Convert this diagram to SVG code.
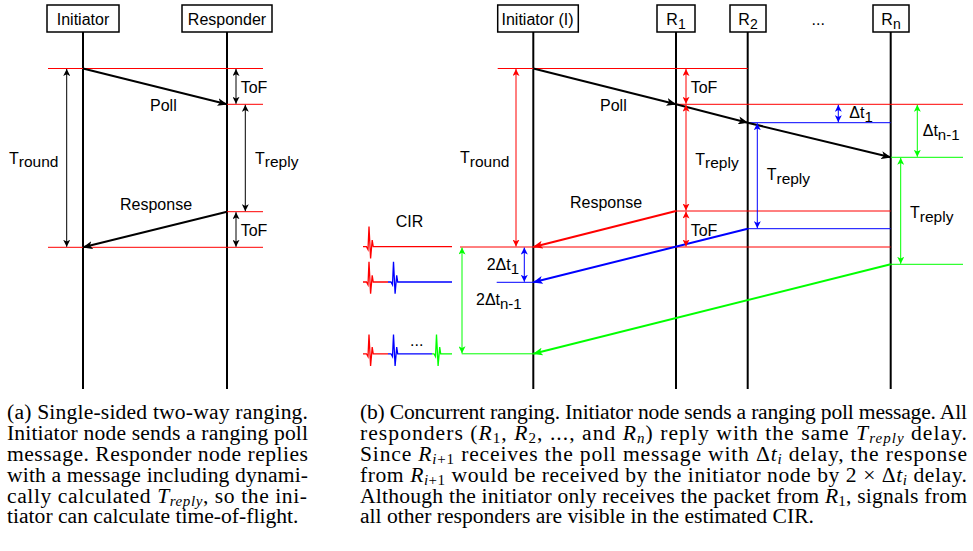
<svg xmlns="http://www.w3.org/2000/svg" width="973" height="551" viewBox="0 0 973 551">
<style>
.lbl{font-family:"Liberation Sans",Arial,Helvetica,sans-serif;font-size:16px;fill:#000}
.cap{font-family:"Liberation Serif","Times New Roman",serif;font-size:21.6px;fill:#000}
.box{fill:#fff;stroke:#000;stroke-width:1.5}
.life{stroke:#000;stroke-width:2;fill:none}
.hr{stroke:#f00;stroke-width:1;fill:none}
.hb{stroke:#00f;stroke-width:1;fill:none}
.hg{stroke:#0f0;stroke-width:1;fill:none}
.msgk{stroke:#000;stroke-width:2;fill:none;marker-end:url(#mk)}
.msgr{stroke:#f00;stroke-width:2;fill:none;marker-end:url(#mr)}
.msgb{stroke:#00f;stroke-width:2;fill:none;marker-end:url(#mb)}
.msgg{stroke:#0f0;stroke-width:2;fill:none;marker-end:url(#mg)}
.dk{stroke:#000;stroke-width:1;fill:none;marker-start:url(#dk);marker-end:url(#dk)}
.dr{stroke:#f00;stroke-width:1;fill:none;marker-start:url(#dr);marker-end:url(#dr)}
.db{stroke:#00f;stroke-width:1;fill:none;marker-start:url(#db);marker-end:url(#db)}
.dg{stroke:#0f0;stroke-width:1;fill:none;marker-start:url(#dg);marker-end:url(#dg)}
.cr{stroke:#f00;stroke-width:1.3;fill:none}
.cb{stroke:#00f;stroke-width:1.3;fill:none}
.cg{stroke:#0f0;stroke-width:1.3;fill:none}
.it{font-style:italic}
</style>
<defs>
<marker id="mk" viewBox="0 0 10 8" refX="9.5" refY="4" markerWidth="10" markerHeight="8" markerUnits="userSpaceOnUse" orient="auto"><path d="M0,0 L10,4 L0,8 L2.5,4 Z" fill="#000"/></marker>
<marker id="mr" viewBox="0 0 10 8" refX="9.5" refY="4" markerWidth="10" markerHeight="8" markerUnits="userSpaceOnUse" orient="auto"><path d="M0,0 L10,4 L0,8 L2.5,4 Z" fill="#f00"/></marker>
<marker id="mb" viewBox="0 0 10 8" refX="9.5" refY="4" markerWidth="10" markerHeight="8" markerUnits="userSpaceOnUse" orient="auto"><path d="M0,0 L10,4 L0,8 L2.5,4 Z" fill="#00f"/></marker>
<marker id="mg" viewBox="0 0 10 8" refX="9.5" refY="4" markerWidth="10" markerHeight="8" markerUnits="userSpaceOnUse" orient="auto"><path d="M0,0 L10,4 L0,8 L2.5,4 Z" fill="#0f0"/></marker>
<marker id="dk" viewBox="0 0 7 7" refX="7" refY="3.5" markerWidth="7" markerHeight="7" markerUnits="userSpaceOnUse" orient="auto-start-reverse"><path d="M0,0 L7,3.5 L0,7 L1.8,3.5 Z" fill="#000"/></marker>
<marker id="dr" viewBox="0 0 7 7" refX="7" refY="3.5" markerWidth="7" markerHeight="7" markerUnits="userSpaceOnUse" orient="auto-start-reverse"><path d="M0,0 L7,3.5 L0,7 L1.8,3.5 Z" fill="#f00"/></marker>
<marker id="db" viewBox="0 0 7 7" refX="7" refY="3.5" markerWidth="7" markerHeight="7" markerUnits="userSpaceOnUse" orient="auto-start-reverse"><path d="M0,0 L7,3.5 L0,7 L1.8,3.5 Z" fill="#00f"/></marker>
<marker id="dg" viewBox="0 0 7 7" refX="7" refY="3.5" markerWidth="7" markerHeight="7" markerUnits="userSpaceOnUse" orient="auto-start-reverse"><path d="M0,0 L7,3.5 L0,7 L1.8,3.5 Z" fill="#0f0"/></marker>
</defs>
<rect width="973" height="551" fill="#fff"/>

<!-- Left diagram nodes -->
<g id="left-initiator">
<line class="life" x1="83" y1="32" x2="83" y2="389"/>
<rect class="box" x="47" y="5" width="72" height="27"/>
<text class="lbl" x="83" y="24.5" text-anchor="middle">Initiator</text>
</g>
<g id="left-responder">
<line class="life" x1="227" y1="32" x2="227" y2="389"/>
<rect class="box" x="182" y="5" width="90" height="27"/>
<text class="lbl" x="227" y="24.5" text-anchor="middle">Responder</text>
</g>

<!-- Right diagram nodes -->
<g id="right-initiator">
<line class="life" x1="533.3" y1="32" x2="533.3" y2="389"/>
<rect class="box" x="497.7" y="5" width="80.6" height="27"/>
<text class="lbl" x="537.5" y="24.5" text-anchor="middle">Initiator (I)</text>
</g>
<g id="r1">
<line class="life" x1="676" y1="32" x2="676" y2="389"/>
<rect class="box" x="657" y="5" width="38" height="27"/>
<text class="lbl" x="676" y="24.5" text-anchor="middle">R<tspan dy="4" font-size="14">1</tspan></text>
</g>
<g id="r2">
<line class="life" x1="747.7" y1="32" x2="747.7" y2="389"/>
<rect class="box" x="730" y="5" width="36" height="27"/>
<text class="lbl" x="748" y="24.5" text-anchor="middle">R<tspan dy="4" font-size="14">2</tspan></text>
</g>
<g id="rn">
<line class="life" x1="890.7" y1="32" x2="890.7" y2="389"/>
<rect class="box" x="873" y="5" width="36" height="27"/>
<text class="lbl" x="891" y="24.5" text-anchor="middle">R<tspan dy="4" font-size="14">n</tspan></text>
</g>
<text class="lbl" x="811.5" y="25">...</text>

<!-- Connectors -->
<g id="connectors">
<line class="hr" x1="48" y1="68.5" x2="263" y2="68.5"/>
<line class="hr" x1="227" y1="104.3" x2="263" y2="104.3"/>
<line class="hr" x1="227" y1="211.7" x2="263" y2="211.7"/>
<line class="hr" x1="48" y1="247.3" x2="263" y2="247.3"/>
<line class="msgk" x1="83" y1="68.5" x2="227" y2="104.3"/>
<line class="msgk" x1="227" y1="211.7" x2="83" y2="247.3"/>
<line class="dk" x1="66.7" y1="69" x2="66.7" y2="246.8"/>
<line class="dk" x1="236" y1="69" x2="236" y2="103.8"/>
<line class="dk" x1="245.3" y1="104.8" x2="245.3" y2="211.2"/>
<line class="dk" x1="236" y1="212.2" x2="236" y2="246.8"/>

<line class="hr" x1="497.7" y1="68.5" x2="747.7" y2="68.5"/>
<line class="hr" x1="676" y1="104.3" x2="963" y2="104.3"/>
<line class="hb" x1="747.7" y1="122.7" x2="890.7" y2="122.7"/>
<line class="hg" x1="890.7" y1="157.3" x2="963" y2="157.3"/>
<line class="hr" x1="676" y1="211" x2="890.7" y2="211"/>
<line class="hb" x1="747.7" y1="228.7" x2="890.7" y2="228.7"/>
<line class="hr" x1="460" y1="247" x2="890.7" y2="247"/>
<line class="hg" x1="890.7" y1="264.3" x2="963" y2="264.3"/>
<line class="hb" x1="496.7" y1="282.3" x2="533.3" y2="282.3"/>
<line class="hg" x1="461.7" y1="353.8" x2="533.3" y2="353.8"/>
<line class="msgk" x1="533.3" y1="68.5" x2="676" y2="104.3"/>
<line class="msgk" x1="676" y1="104.3" x2="747.7" y2="122.7"/>
<line class="msgk" x1="747.7" y1="122.7" x2="890.7" y2="157.3"/>
<line class="msgr" x1="676" y1="211" x2="533.3" y2="247"/>
<line class="msgb" x1="747.7" y1="228.7" x2="533.3" y2="282.3"/>
<line class="msgg" x1="890.7" y1="264.3" x2="533.3" y2="353.8"/>
<line class="dr" x1="516" y1="69" x2="516" y2="246.5"/>
<line class="dr" x1="686" y1="69" x2="686" y2="103.8"/>
<line class="dr" x1="686" y1="104.8" x2="686" y2="210.5"/>
<line class="dr" x1="686" y1="211.5" x2="686" y2="246.5"/>
<line class="db" x1="838.3" y1="104.8" x2="838.3" y2="122.2"/>
<line class="db" x1="757.3" y1="123.2" x2="757.3" y2="228.2"/>
<line class="dg" x1="917.3" y1="104.8" x2="917.3" y2="156.8"/>
<line class="dg" x1="900.7" y1="157.8" x2="900.7" y2="263.8"/>
<line class="db" x1="524.3" y1="247.5" x2="524.3" y2="281.8"/>
<line class="dg" x1="462" y1="247.5" x2="462" y2="353.3"/>
</g>

<!-- CIR traces -->
<g id="cir">
<path class="cr" d="M363,246.7 H366.5 L368,249.5 L369,226.5 L370.6,258.5 L372.2,240 L373.2,246.7 H452"/>
<path class="cr" d="M363,282 H366.5 L368,284.8 L369,261.8 L370.6,293.8 L372.2,275.3 L373.2,282 H388"/>
<path class="cb" d="M388,282 H391 L392.5,284.8 L393.5,261.8 L395.1,293.8 L396.7,275.3 L397.7,282 H452"/>
<path class="cr" d="M363,353.8 H366.5 L368,356.6 L369,334.5 L370.6,366 L372.2,347.1 L373.2,353.8 H388"/>
<path class="cb" d="M388,353.8 H391 L392.5,356.6 L393.5,334.5 L395.1,366 L396.7,347.1 L397.7,353.8 H432"/>
<path class="cg" d="M432,353.8 H434 L435.5,356.6 L436.5,334.5 L438.1,366 L439.7,347.1 L440.7,353.8 H452"/>
<text class="lbl" x="410" y="346">...</text>
</g>

<!-- Labels -->
<g id="labels">
<text class="lbl" x="240.7" y="93">ToF</text>
<text class="lbl" x="150" y="111">Poll</text>
<text class="lbl" x="9" y="163.5">T<tspan dy="3.5" font-size="15.5">round</tspan></text>
<text class="lbl" x="255" y="163.5">T<tspan dy="3.5" font-size="15.5">reply</tspan></text>
<text class="lbl" x="120" y="210">Response</text>
<text class="lbl" x="240.7" y="235.7">ToF</text>

<text class="lbl" x="690.7" y="93.3">ToF</text>
<text class="lbl" x="600" y="111">Poll</text>
<text class="lbl" x="460" y="163">T<tspan dy="3.5" font-size="15.5">round</tspan></text>
<text class="lbl" x="695.3" y="164.5">T<tspan dy="3.5" font-size="15.5">reply</tspan></text>
<text class="lbl" x="766.7" y="180">T<tspan dy="3.5" font-size="15.5">reply</tspan></text>
<text class="lbl" x="849.3" y="118">Δt<tspan dy="3.5" font-size="15">1</tspan></text>
<text class="lbl" x="922.7" y="136">Δt<tspan dy="3.5" font-size="15">n-1</tspan></text>
<text class="lbl" x="910" y="218.3">T<tspan dy="3.5" font-size="15.5">reply</tspan></text>
<text class="lbl" x="570" y="208.3">Response</text>
<text class="lbl" x="690.7" y="235.7">ToF</text>
<text class="lbl" x="395.7" y="226.7">CIR</text>
<text class="lbl" x="486.7" y="270">2Δt<tspan dy="3.5" font-size="15">1</tspan></text>
<text class="lbl" x="476" y="305">2Δt<tspan dy="3.5" font-size="15">n-1</tspan></text>
</g>

<!-- Captions -->
<g id="caption-a">
<text class="cap" x="7" y="419" textLength="301" lengthAdjust="spacing">(a) Single-sided two-way ranging.</text>
<text class="cap" x="7" y="440" textLength="301" lengthAdjust="spacing">Initiator node sends a ranging poll</text>
<text class="cap" x="7" y="461" textLength="301" lengthAdjust="spacing">message. Responder node replies</text>
<text class="cap" x="7" y="481.7" textLength="301" lengthAdjust="spacing">with a message including dynami-</text>
<text class="cap" x="7" y="502.5" textLength="300" lengthAdjust="spacing">cally calculated <tspan class="it">T</tspan><tspan class="it" font-size="15" dy="3">reply</tspan><tspan dy="-3">, so the ini-</tspan></text>
<text class="cap" x="7" y="523.3">tiator can calculate time-of-flight.</text>
</g>
<g id="caption-b">
<text class="cap" x="360" y="419" textLength="607" lengthAdjust="spacing">(b) Concurrent ranging. Initiator node sends a ranging poll message. All</text>
<text class="cap" x="360" y="440" textLength="607" lengthAdjust="spacing">responders (<tspan class="it">R</tspan><tspan font-size="15" dy="3">1</tspan><tspan dy="-3">, </tspan><tspan class="it">R</tspan><tspan font-size="15" dy="3">2</tspan><tspan dy="-3">, ..., and </tspan><tspan class="it">R</tspan><tspan class="it" font-size="15" dy="3">n</tspan><tspan dy="-3">) reply with the same </tspan><tspan class="it">T</tspan><tspan class="it" font-size="15" dy="3">reply</tspan><tspan dy="-3"> delay.</tspan></text>
<text class="cap" x="360" y="461" textLength="607" lengthAdjust="spacing">Since <tspan class="it">R</tspan><tspan font-size="15" dy="3"><tspan class="it">i</tspan>+1</tspan><tspan dy="-3"> receives the poll message with Δ</tspan><tspan class="it">t</tspan><tspan class="it" font-size="15" dy="3">i</tspan><tspan dy="-3"> delay, the response</tspan></text>
<text class="cap" x="360" y="481.7" textLength="607" lengthAdjust="spacing">from <tspan class="it">R</tspan><tspan font-size="15" dy="3"><tspan class="it">i</tspan>+1</tspan><tspan dy="-3"> would be received by the initiator node by 2 × Δ</tspan><tspan class="it">t</tspan><tspan class="it" font-size="15" dy="3">i</tspan><tspan dy="-3"> delay.</tspan></text>
<text class="cap" x="360" y="502.5" textLength="607" lengthAdjust="spacing">Although the initiator only receives the packet from <tspan class="it">R</tspan><tspan font-size="15" dy="3">1</tspan><tspan dy="-3">, signals from</tspan></text>
<text class="cap" x="360" y="523.3">all other responders are visible in the estimated CIR.</text>
</g>
</svg>
